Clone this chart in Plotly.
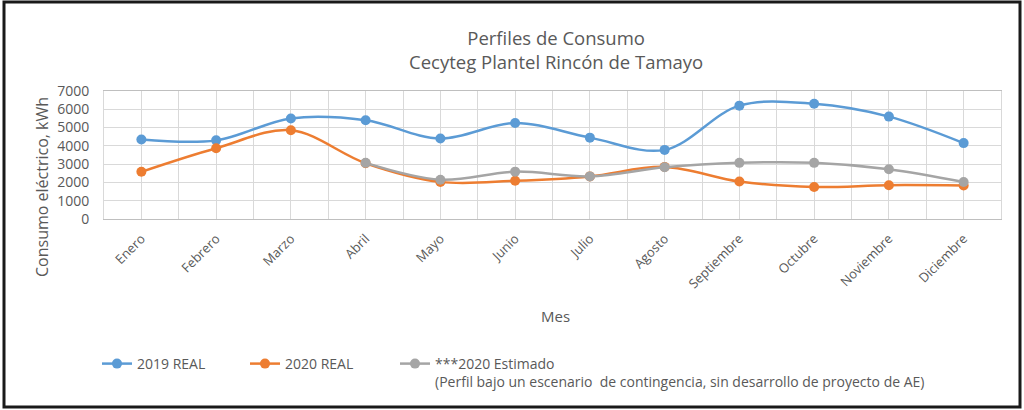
import plotly.graph_objects as go

months = ["Enero", "Febrero", "Marzo", "Abril", "Mayo", "Junio", "Julio",
          "Agosto", "Septiembre", "Octubre", "Noviembre", "Diciembre"]
real_2019 = [4350, 4300, 5500, 5400, 4400, 5250, 4450, 3780, 6200, 6300, 5600, 4150]
real_2020 = [2580, 3870, 4850, 3050, 2030, 2090, 2330, 2850, 2050, 1750, 1850, 1830]
est_2020 = [None, None, None, 3070, 2150, 2590, 2330, 2830, 3070, 3070, 2720, 2020]

W, H = 1024, 410
L, R, T, B = 104, 1001, 91, 219
PW, PH = R - L, B - T


def px(x):
    return (x - L) / PW


def py(y):
    return (B - y) / PH


xi = list(range(len(months)))
font = "Open Sans, Liberation Sans, sans-serif"
grey_txt = "#595959"

fig = go.Figure()
series = [
    ("2019 REAL", real_2019, "#5B9BD5", "legend", 97),
    ("2020 REAL", real_2020, "#ED7D31", "legend2", 245),
    ("***2020 Estimado<br>(Perfil bajo un escenario  de contingencia, sin desarrollo de proyecto de AE)",
     est_2020, "#A5A5A5", "legend3", 395),
]
legends = {}
for name, vals, col, lg, lx in series:
    fig.add_trace(go.Scatter(
        x=xi, y=vals, name=name, mode="lines+markers",
        line=dict(color=col, width=2.5, shape="spline", smoothing=1),
        marker=dict(color=col, size=10),
        connectgaps=False, legend=lg,
    ))
    legends[lg] = dict(
        orientation="h", x=px(lx), y=py(348), xanchor="left", yanchor="top",
        font=dict(size=14, color=grey_txt, family=font), valign="top",
        bgcolor="rgba(0,0,0,0)", borderwidth=0,
    )

fig.update_layout(
    width=W, height=H,
    margin=dict(l=L, r=W - R, t=T, b=H - B),
    paper_bgcolor="white", plot_bgcolor="white",
    font=dict(family=font, color=grey_txt, size=13),
    showlegend=True,
    **legends,
)
fig.update_xaxes(
    range=[-0.5, 11.5], tickmode="array", tickvals=xi, ticktext=months,
    tickangle=-45, showgrid=True, gridcolor="#D9D9D9", gridwidth=1,
    minor=dict(tick0=-0.5, dtick=1, showgrid=True, gridcolor="#D9D9D9", gridwidth=1),
    showline=True, linecolor="#BFBFBF", linewidth=1, mirror=True,
    zeroline=False, ticks="", tickfont=dict(size=13, color=grey_txt),
    ticklabelstandoff=6,
)
fig.update_yaxes(
    range=[0, 7000], dtick=1000, showgrid=True, gridcolor="#D9D9D9",
    showline=True, linecolor="#D9D9D9", mirror=True, zeroline=False,
    ticks="", tickfont=dict(size=14, color=grey_txt), ticklabelstandoff=11,
)

fig.add_annotation(text="Perfiles de Consumo<br>Cecyteg Plantel Rincón de Tamayo",
                   x=px(556), y=py(49), xref="paper", yref="paper",
                   xanchor="center", yanchor="middle", showarrow=False,
                   font=dict(size=18.5, color=grey_txt, family=font))
fig.add_annotation(text="Mes", x=px(555), y=py(316), xref="paper", yref="paper",
                   xanchor="center", yanchor="middle", showarrow=False,
                   font=dict(size=15, color=grey_txt, family=font))
fig.add_annotation(text="Consumo eléctrico, kWh", x=px(42), y=py(187), xref="paper", yref="paper",
                   xanchor="center", yanchor="middle", showarrow=False, textangle=-90,
                   font=dict(size=16, color=grey_txt, family=font))

fig.add_shape(type="rect", xref="paper", yref="paper",
              x0=px(4), x1=px(1020), y0=py(407), y1=py(2),
              line=dict(color="#1a1a1a", width=3), fillcolor="rgba(0,0,0,0)", layer="below")

fig.write_html("out.html", config={"displayModeBar": False},
               post_script="document.body.style.margin='0';document.body.style.overflow='hidden';")
